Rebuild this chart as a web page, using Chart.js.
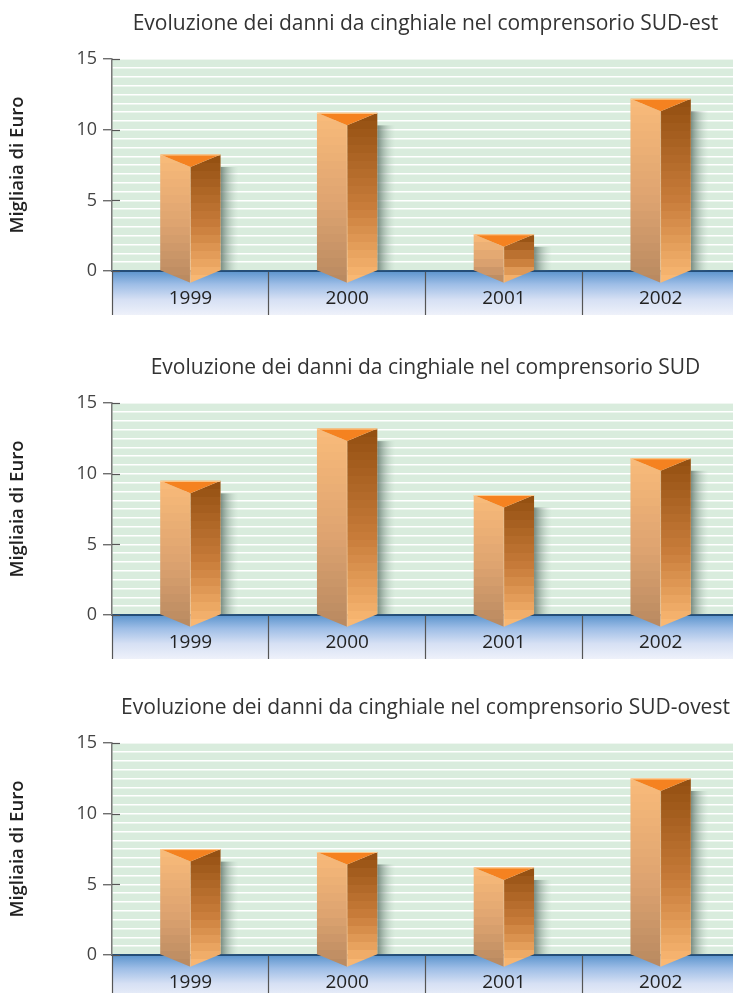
<!DOCTYPE html>
<html lang="it">
<head>
  <meta charset="UTF-8" />
  <title>Danni da cinghiale</title>
  <script src="https://cdn.jsdelivr.net/npm/chart.js"></script>
  <style>
    html, body { margin: 0; padding: 0; background: #fff; overflow: hidden; }
    body { width: 733px; height: 993px; position: relative; }
    canvas { position: absolute; left: 0; }
  </style>
</head>
<body>
  <canvas id="chartEst" width="739" height="316" style="top:0px"></canvas>
  <canvas id="chartSud" width="739" height="316" style="top:344px"></canvas>
  <canvas id="chartOvest" width="739" height="316" style="top:684px"></canvas>

  <script>
    // migliaia di euro per anno
    const years = ['1999', '2000', '2001', '2002'];
    const sudEst = [8.25, 11.2, 2.6, 12.2];
    const sud = [9.5, 13.2, 8.5, 11.1];
    const sudOvest = [7.5, 7.3, 6.2, 12.5];
    const yTicks = [0, 5, 10, 15];
    const yTitle = 'Migliaia di Euro';

    const FONT = "'Open Sans', 'DejaVu Sans', sans-serif";
    const STRIPE = 0.625;   // distance between the white background stripes
    const DEPTH = 12.5;     // how far the front edge of a prism drops below its back edge

    function mix(a, b, t) {
      return a.map((v, i) => Math.round(v + (b[i] - v) * t));
    }

    // vertical gradient made of flat bands, top -> mid -> bottom colours
    function bandGradient(ctx, y0, y1, top, mid, bottom) {
      const g = ctx.createLinearGradient(0, y0, 0, y1);
      const n = Math.max(3, Math.round((y1 - y0) / 8));
      for (let k = 0; k < n; k++) {
        const t = (k + 0.5) / n;
        const c = t < 0.55 ? mix(top, mid, t / 0.55) : mix(mid, bottom, (t - 0.55) / 0.45);
        const col = `rgb(${c[0]},${c[1]},${c[2]})`;
        g.addColorStop(k / n, col);
        g.addColorStop(Math.max(k / n, (k + 1) / n - 0.0001), col);
      }
      return g;
    }

    const prismPlugin = {
      id: 'prism',
      beforeDraw(chart) {
        const { ctx, chartArea: a } = chart;
        ctx.save();
        // plot background
        ctx.fillStyle = '#d9ecdd';
        ctx.fillRect(a.left, a.top, a.right - a.left, a.bottom - a.top);
        // floor band under the zero line
        const fb = chart.scales.x.bottom;
        const g = ctx.createLinearGradient(0, a.bottom, 0, fb);
        g.addColorStop(0, '#5b94cd');
        g.addColorStop(0.3, '#9dbde6');
        g.addColorStop(0.65, '#d6e0f4');
        g.addColorStop(1, '#eef1fa');
        ctx.fillStyle = g;
        ctx.fillRect(a.left, a.bottom, a.right - a.left, fb - a.bottom);
        ctx.restore();
      },
      afterDatasetsDraw(chart) {
        const { ctx, chartArea: a } = chart;
        const bars = chart.getDatasetMeta(0).data;
        ctx.save();
        // soft shadows to the right of each prism
        bars.forEach(b => {
          const r = b.x + b.width / 2;
          const g = ctx.createLinearGradient(r, 0, r + 18, 0);
          g.addColorStop(0, 'rgba(95,115,105,0.8)');
          g.addColorStop(1, 'rgba(190,210,198,0)');
          ctx.fillStyle = g;
          ctx.fillRect(r, b.y + DEPTH, 18, b.base - b.y - DEPTH);
        });
        bars.forEach(b => {
          const l = b.x - b.width / 2, r = b.x + b.width / 2, c = b.x;
          const top = b.y, base = b.base;
          // left face
          ctx.beginPath();
          ctx.moveTo(l, top); ctx.lineTo(c, top + DEPTH);
          ctx.lineTo(c, base + DEPTH); ctx.lineTo(l, base); ctx.closePath();
          ctx.fillStyle = bandGradient(ctx, top, base + DEPTH, [249, 187, 122], [221, 163, 112], [184, 137, 96]);
          ctx.fill();
          // right face
          ctx.beginPath();
          ctx.moveTo(c, top + DEPTH); ctx.lineTo(r, top);
          ctx.lineTo(r, base); ctx.lineTo(c, base + DEPTH); ctx.closePath();
          ctx.fillStyle = bandGradient(ctx, top, base + DEPTH, [146, 78, 16], [200, 124, 58], [252, 187, 118]);
          ctx.fill();
          // front edge highlight
          ctx.strokeStyle = 'rgba(255,228,196,0.35)';
          ctx.lineWidth = 1;
          ctx.beginPath(); ctx.moveTo(c, top + DEPTH); ctx.lineTo(c, base + DEPTH); ctx.stroke();
          // top triangle
          ctx.beginPath();
          ctx.moveTo(l, top); ctx.lineTo(r, top); ctx.lineTo(c, top + DEPTH); ctx.closePath();
          ctx.fillStyle = '#f58220';
          ctx.fill();
          ctx.strokeStyle = 'rgba(255,214,160,0.9)';
          ctx.beginPath(); ctx.moveTo(l, top + 0.5); ctx.lineTo(r, top + 0.5); ctx.stroke();
        });
        // tick marks continue a little inside the plot
        const y = chart.scales.y;
        ctx.strokeStyle = '#555';
        ctx.lineWidth = 1.2;
        yTicks.forEach(v => {
          const py = Math.round(y.getPixelForValue(v)) + 0.5;
          ctx.beginPath(); ctx.moveTo(a.left, py); ctx.lineTo(a.left + 8, py); ctx.stroke();
        });
        ctx.restore();
      }
    };

    function makeChart(id, title, values) {
      return new Chart(document.getElementById(id), {
        type: 'bar',
        data: {
          labels: years,
          datasets: [{
            data: values,
            backgroundColor: 'rgba(0,0,0,0)',
            borderWidth: 0,
            barPercentage: 0.385,
            categoryPercentage: 1
          }]
        },
        options: {
          responsive: false,
          animation: false,
          events: [],
          layout: { padding: { top: 0, right: 0, bottom: 1, left: 0 } },
          plugins: {
            legend: { display: false },
            tooltip: { enabled: false },
            title: {
              display: true,
              text: title,
              fullSize: false,
              color: '#333',
              font: { family: FONT, size: 21, weight: 'normal' },
              padding: { top: 11, bottom: 23 }
            }
          },
          scales: {
            x: {
              offset: true,
              grid: {
                offset: true,
                drawOnChartArea: false,
                drawTicks: true,
                tickLength: 44,
                tickColor: '#555',
                tickWidth: 1.2
              },
              border: { color: '#244e78', width: 2 },
              ticks: { padding: -28, color: '#222', font: { family: FONT, size: 19 } },
              afterFit(s) { s.height = 44; }
            },
            y: {
              min: 0,
              max: 15,
              afterBuildTicks(s) {
                const t = [];
                for (let k = 0; k * STRIPE <= 15; k++) t.push({ value: k * STRIPE });
                s.ticks = t;
              },
              ticks: {
                autoSkip: false,
                padding: 6,
                color: '#444',
                font: { family: FONT, size: 18 },
                callback: v => yTicks.includes(v) ? String(v) : ''
              },
              grid: {
                color: c => (c.tick && c.tick.value === 0) ? 'rgba(0,0,0,0)' : '#ffffff',
                lineWidth: 1.5,
                tickLength: 9,
                tickColor: c => (c.tick && yTicks.includes(c.tick.value)) ? '#555' : 'rgba(0,0,0,0)',
                tickWidth: 1.2
              },
              border: { color: '#7a7a7a', width: 1.5 },
              title: {
                display: true,
                text: yTitle,
                color: '#222',
                font: { family: FONT, size: 18.5, weight: '600' },
                padding: { top: 7, bottom: 0 }
              },
              afterFit(s) { s.width = 112; }
            }
          }
        },
        plugins: [prismPlugin]
      });
    }

    makeChart('chartEst', 'Evoluzione dei danni da cinghiale nel comprensorio SUD-est', sudEst);
    makeChart('chartSud', 'Evoluzione dei danni da cinghiale nel comprensorio SUD', sud);
    makeChart('chartOvest', 'Evoluzione dei danni da cinghiale nel comprensorio SUD-ovest', sudOvest);
  </script>
</body>
</html>
